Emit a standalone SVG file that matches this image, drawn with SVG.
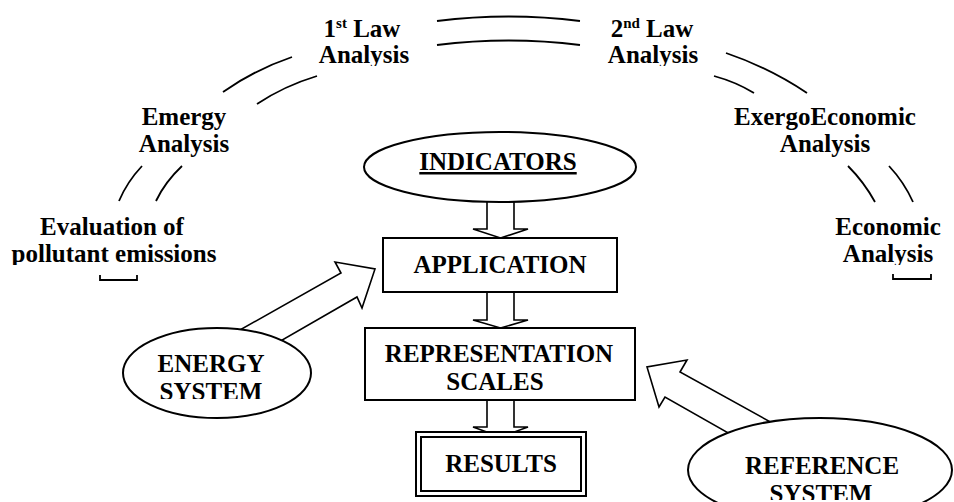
<svg xmlns="http://www.w3.org/2000/svg" width="954" height="502" viewBox="0 0 954 502">
<style>
text{font-family:"Liberation Serif","Times New Roman",serif;font-weight:bold;font-size:25px;fill:#000;text-anchor:middle}
.sup{font-size:15px}
.ln{fill:none;stroke:#000;stroke-width:1.8}
.box{fill:#fff;stroke:#000;stroke-width:2}
.arr{fill:#fff;stroke:#000;stroke-width:1.6;stroke-linejoin:miter}
</style>
<defs>
<clipPath id="c1"><rect x="250" y="0" width="230" height="66"/></clipPath>
<clipPath id="c2"><rect x="560" y="0" width="200" height="66"/></clipPath>
<clipPath id="c3"><rect x="100" y="100" width="180" height="155"/></clipPath>
<clipPath id="c4"><rect x="700" y="100" width="254" height="155"/></clipPath>
<clipPath id="c5"><rect x="0" y="200" width="240" height="65"/></clipPath>
<clipPath id="c6"><rect x="800" y="200" width="154" height="65"/></clipPath>
<clipPath id="c7"><rect x="100" y="340" width="240" height="59"/></clipPath>
<clipPath id="c8"><rect x="680" y="430" width="274" height="70"/></clipPath>
</defs>

<g id="connectors">
<path class="ln" d="M437,21 Q509,12 580,21"/>
<path class="ln" d="M437,45 Q509,36 580,45"/>
<path class="ln" d="M223,92 Q254,70 292,57"/>
<path class="ln" d="M257,104 Q284,86 317,76"/>
<path class="ln" d="M726,53 Q770,68 807,93"/>
<path class="ln" d="M714,76 Q736,82 754,93"/>
<path class="ln" d="M119,201 Q127,182 142,166"/>
<path class="ln" d="M156,201 Q165,182 182,166"/>
<path class="ln" d="M848,166 Q864,182 875,202"/>
<path class="ln" d="M889,166 Q904,182 913,202"/>
<path class="ln" d="M100,275 V280 H137 V275"/>
<path class="ln" d="M893,274 V279 H931 V274"/>
<polygon class="arr" points="487,190 514,190 514,229 528,229 500.5,238 473,229 487,229"/>
<polygon class="arr" points="487,292 514,292 514,320 528,320 500.5,328 473,320 487,320"/>
<polygon class="arr" points="487,400 514,400 514,427 528,427 500.5,437 473,427 487,427"/>
<polygon class="arr" points="224,339 341,273 335,262 375,269 362,308 357,297 265,350"/>
<polygon class="arr" points="785,430 680,372 687,360 647,367 659,407 665,397 744,442"/>
</g>

<g id="first-law" clip-path="url(#c1)">
<text x="362" y="37">1<tspan class="sup" dy="-9">st</tspan><tspan dy="9"> Law</tspan></text>
<text x="364" y="63">Analysis</text>
</g>
<g id="second-law" clip-path="url(#c2)">
<text x="652" y="37">2<tspan class="sup" dy="-9">nd</tspan><tspan dy="9"> Law</tspan></text>
<text x="653" y="63">Analysis</text>
</g>
<g id="emergy" clip-path="url(#c3)">
<text x="184" y="125">Emergy</text>
<text x="184" y="152">Analysis</text>
</g>
<g id="exergoeconomic" clip-path="url(#c4)">
<text x="825" y="125">ExergoEconomic</text>
<text x="825" y="152">Analysis</text>
</g>
<g id="pollutant" clip-path="url(#c5)">
<text x="112" y="235">Evaluation of</text>
<text x="114" y="262">pollutant emissions</text>
</g>
<g id="economic" clip-path="url(#c6)">
<text x="888" y="235">Economic</text>
<text x="888" y="262">Analysis</text>
</g>

<g id="indicators">
<ellipse class="box" cx="500" cy="167" rx="136" ry="35"/>
<text x="498" y="170" text-decoration="underline">INDICATORS</text>
</g>
<g id="application">
<rect class="box" x="383" y="238" width="234" height="54"/>
<text x="500" y="273">APPLICATION</text>
</g>
<g id="representation">
<rect class="box" x="365" y="328" width="270" height="72"/>
<text x="499" y="362">REPRESENTATION</text>
<text x="495" y="390">SCALES</text>
</g>
<g id="results">
<rect class="box" x="416" y="432" width="170" height="64"/>
<rect class="box" x="421" y="437" width="160" height="54"/>
<text x="501" y="472">RESULTS</text>
</g>
<g id="energy-system">
<ellipse class="box" cx="217" cy="373" rx="94" ry="45"/>
<g clip-path="url(#c7)">
<text x="211" y="372">ENERGY</text>
<text x="211" y="400">SYSTEM</text>
</g>
</g>
<g id="reference-system">
<ellipse class="box" cx="820" cy="470" rx="132" ry="52"/>
<g clip-path="url(#c8)">
<text x="822" y="474">REFERENCE</text>
<text x="821" y="502">SYSTEM</text>
</g>
</g>
</svg>
